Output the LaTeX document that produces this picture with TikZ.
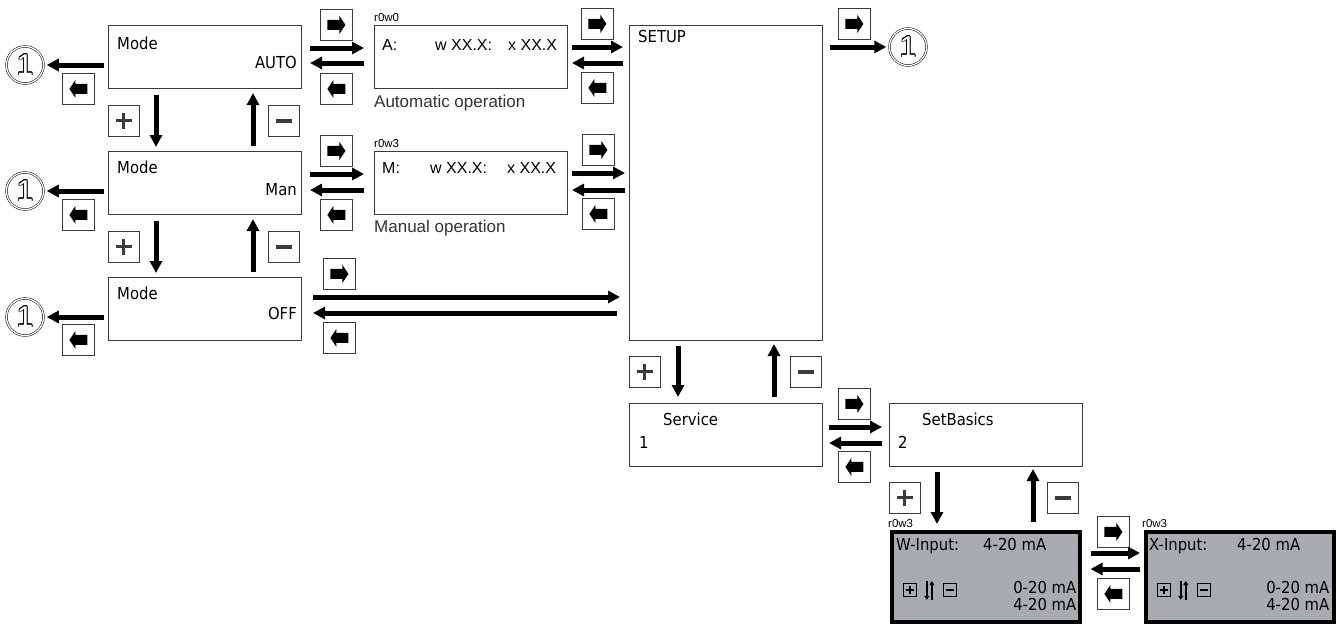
\documentclass[tikz,border=0pt]{standalone}
\usepackage{fontspec}
\setmainfont{Liberation Sans}
\newfontfamily\lcd[FakeStretch=0.9]{DejaVu Sans}
\usepackage{contour}
\contourlength{0.6pt}
\usetikzlibrary{arrows.meta,positioning,calc}
\definecolor{Frame}{HTML}{3A3A3A}
\definecolor{Panel}{HTML}{A8ABAF}
\tikzset{
  screen/.style={draw=Frame,line width=1pt,fill=white,minimum width=193pt,minimum height=63pt,anchor=north west,inner sep=0pt},
  panel/.style={draw=black,line width=3.5pt,fill=Panel,minimum width=188pt,minimum height=90pt,anchor=north west,inner sep=0pt},
  key/.style={draw=Frame,line width=0.8pt,fill=white,minimum width=32pt,minimum height=31pt,anchor=north west,inner sep=0pt},
  keyright/.style={key,path picture={\fill[black] (path picture bounding box.center) ++(-9,-5) -- ++(12,0) -- ++(0,-4) -- ++(6,9) -- ++(-6,9) -- ++(0,-4) -- ++(-12,0) -- cycle;}},
  keyleft/.style={key,path picture={\fill[black] (path picture bounding box.center) ++(9,-5) -- ++(-12,0) -- ++(0,-4) -- ++(-6,9) -- ++(6,9) -- ++(0,-4) -- ++(12,0) -- cycle;}},
  keyplus/.style={key,minimum width=31pt,path picture={\draw[line width=3pt] (path picture bounding box.center) ++(-8,0) -- ++(16,0) (path picture bounding box.center) ++(0,-8) -- ++(0,16);}},
  keyminus/.style={key,minimum width=31pt,path picture={\draw[line width=4pt] (path picture bounding box.center) ++(-8,0) -- ++(16,0);}},
  minikey/.style={draw=black,line width=0.8pt,minimum size=13pt,anchor=north west,inner sep=0pt},
  miniplus/.style={minikey,path picture={\draw[line width=1.4pt] (path picture bounding box.center) ++(-4,0) -- ++(8,0) (path picture bounding box.center) ++(0,-4) -- ++(0,8);}},
  miniminus/.style={minikey,path picture={\draw[line width=1.4pt] (path picture bounding box.center) ++(-4,0) -- ++(8,0);}},
  ring/.style={circle,draw,double,double distance=1.3pt,line width=0.5pt,minimum size=37pt,inner sep=0pt,font=\fontsize{30}{30}\selectfont},
  lcdtxt/.style={inner sep=0pt,anchor=base west,font=\lcd\fontsize{16.5}{18}\selectfont},
  valtxt/.style={inner sep=0pt,anchor=base west,font=\fontsize{16}{18}\selectfont},
  captxt/.style={inner sep=0pt,anchor=base west,font=\fontsize{17}{19}\selectfont,text=black!80},
  tagtxt/.style={inner sep=0pt,anchor=base west,font=\fontsize{11.5}{12}\selectfont},
  flow/.style={-{Triangle[length=12pt,width=12pt]},line width=5pt},
  miniflow/.style={-{Triangle[length=4pt,width=5pt]},line width=1.6pt}
}

\begin{document}
\begin{tikzpicture}[x=1pt,y=-1pt]
  \useasboundingbox (0,0) rectangle (1336,625);
  % mode screens
  \node[screen] (auto) at (108,25) {};
  \node[screen] (man) at (108,151) {};
  \node[screen] (off) at (108,277) {};
  \node[lcdtxt] (auto-t) at ([shift={(9,24)}]auto.north west) {Mode};
  \node[lcdtxt,anchor=base east] (auto-v) at ([shift={(-5,43)}]auto.north east) {AUTO};
  \node[lcdtxt] (man-t) at ([shift={(9,22)}]man.north west) {Mode};
  \node[lcdtxt,anchor=base east] (man-v) at ([shift={(-5,44)}]man.north east) {Man};
  \node[lcdtxt] (off-t) at ([shift={(9,22)}]off.north west) {Mode};
  \node[lcdtxt,anchor=base east] (off-v) at ([shift={(-5,42)}]off.north east) {OFF};
  % operation screens
  \node[screen] (aop) at (374,25) {};
  \node[screen] (mop) at (374,151) {};
  \node[tagtxt] (aop-r) at ([shift={(0,-4)}]aop.north west) {r0w0};
  \node[valtxt] (aop-a) at ([shift={(8,25)}]aop.north west) {A:};
  \node[valtxt] (aop-w) at ([shift={(61,25)}]aop.north west) {w XX.X:};
  \node[valtxt] (aop-x) at ([shift={(134,25)}]aop.north west) {x XX.X};
  \node[captxt] (aop-c) at ([shift={(0,18)}]aop.south west) {Automatic operation};
  \node[tagtxt] (mop-r) at ([shift={(0,-4)}]mop.north west) {r0w3};
  \node[valtxt] (mop-m) at ([shift={(8,22)}]mop.north west) {M:};
  \node[valtxt] (mop-w) at ([shift={(56,22)}]mop.north west) {w XX.X:};
  \node[valtxt] (mop-x) at ([shift={(133,22)}]mop.north west) {x XX.X};
  \node[captxt] (mop-c) at ([shift={(0,17)}]mop.south west) {Manual operation};
  % setup and menus
  \node[screen,minimum height=315pt] (setup) at (629,25) {};
  \node[lcdtxt] (setup-t) at ([shift={(9,17)}]setup.north west) {SETUP};
  \node[screen] (serv) at (629,403) {};
  \node[lcdtxt] (serv-t) at ([shift={(34,22)}]serv.north west) {Service};
  \node[lcdtxt] (serv-n) at ([shift={(10,45)}]serv.north west) {1};
  \node[screen] (basics) at (889,403) {};
  \node[lcdtxt] (basics-t) at ([shift={(33,22)}]basics.north west) {SetBasics};
  \node[lcdtxt] (basics-n) at ([shift={(9,45)}]basics.north west) {2};
  % input panels
  \node[panel] (winp) at (890,530) {};
  \node[panel] (xinp) at (1144,530) {};
  \node[tagtxt] (winp-r) at ([shift={(-2,-3)}]winp.north west) {r0w3};
  \node[lcdtxt] (winp-t) at ([shift={(6,20)}]winp.north west) {W-Input:};
  \node[lcdtxt] (winp-v) at ([shift={(93,20)}]winp.north west) {4-20 mA};
  \node[lcdtxt,anchor=base east] (winp-o1) at ([shift={(-5,63)}]winp.north east) {0-20 mA};
  \node[lcdtxt,anchor=base east] (winp-o2) at ([shift={(-5,80)}]winp.north east) {4-20 mA};
  \node[miniplus] (winp-k1) at ([shift={(13,53)}]winp.north west) {};
  \node[miniminus] (winp-k2) at ([shift={(53,53)}]winp.north west) {};
  \draw[miniflow] ([shift={(10,-2)}]winp-k1.north east) -- ([shift={(10,3)}]winp-k1.south east);
  \draw[miniflow] ([shift={(15,3)}]winp-k1.south east) -- ([shift={(15,-2)}]winp-k1.north east);
  \node[tagtxt] (xinp-r) at ([shift={(-2,-3)}]xinp.north west) {r0w3};
  \node[lcdtxt] (xinp-t) at ([shift={(5,20)}]xinp.north west) {X-Input:};
  \node[lcdtxt] (xinp-v) at ([shift={(93,20)}]xinp.north west) {4-20 mA};
  \node[lcdtxt,anchor=base east] (xinp-o1) at ([shift={(-6,63)}]xinp.north east) {0-20 mA};
  \node[lcdtxt,anchor=base east] (xinp-o2) at ([shift={(-6,80)}]xinp.north east) {4-20 mA};
  \node[miniplus] (xinp-k1) at ([shift={(13,53)}]xinp.north west) {};
  \node[miniminus] (xinp-k2) at ([shift={(53,53)}]xinp.north west) {};
  \draw[miniflow] ([shift={(10,-2)}]xinp-k1.north east) -- ([shift={(10,3)}]xinp-k1.south east);
  \draw[miniflow] ([shift={(15,3)}]xinp-k1.south east) -- ([shift={(15,-2)}]xinp-k1.north east);
  % exits
  \node[ring] (ring1) at (25,65) {\contour{black}{\textcolor{white}{1}}};
  \node[ring] (ring2) at (25,191) {\contour{black}{\textcolor{white}{1}}};
  \node[ring] (ring3) at (25,317) {\contour{black}{\textcolor{white}{1}}};
  \node[ring] (ring4) at (908,47) {\contour{black}{\textcolor{white}{1}}};
  % keys
  \node[keyleft] (k-auto-x) at (62,73) {};
  \node[keyleft] (k-man-x) at (62,199) {};
  \node[keyleft] (k-off-x) at (62,324) {};
  \node[keyright] (k-auto-r) at (320,9) {};
  \node[keyleft] (k-auto-l) at (320,73) {};
  \node[keyright] (k-man-r) at (320,135) {};
  \node[keyleft] (k-man-l) at (320,199) {};
  \node[keyright] (k-off-r) at (323,258) {};
  \node[keyleft] (k-off-l) at (323,322) {};
  \node[keyright] (k-aop-r) at (581,8) {};
  \node[keyleft] (k-aop-l) at (581,72) {};
  \node[keyright] (k-mop-r) at (582,134) {};
  \node[keyleft] (k-mop-l) at (582,198) {};
  \node[keyright] (k-setup-r) at (838,8) {};
  \node[keyplus] (k-auto-p) at (108,105) {};
  \node[keyminus] (k-auto-m) at (268,105) {};
  \node[keyplus] (k-man-p) at (108,231) {};
  \node[keyminus] (k-man-m) at (268,231) {};
  \node[keyplus] (k-setup-p) at (629,356) {};
  \node[keyminus] (k-setup-m) at (790,356) {};
  \node[keyright] (k-serv-r) at (838,388) {};
  \node[keyleft] (k-serv-l) at (838,451) {};
  \node[keyplus] (k-basics-p) at (889,482) {};
  \node[keyminus] (k-basics-m) at (1047,482) {};
  \node[keyright] (k-winp-r) at (1097,516) {};
  \node[keyleft] (k-winp-l) at (1097,578) {};
  % horizontal flows
  \draw[flow,shorten >=3pt] ([shift={(-4,40)}]auto.north west) -- (ring1);
  \draw[flow,shorten >=3pt] ([shift={(-4,40)}]man.north west) -- (ring2);
  \draw[flow,shorten >=3pt] ([shift={(-4,40)}]off.north west) -- (ring3);
  \draw[flow] ([shift={(8,23)}]auto.north east) -- ([shift={(-10,23)}]aop.north west);
  \draw[flow] ([shift={(-10,38)}]aop.north west) -- ([shift={(8,38)}]auto.north east);
  \draw[flow] ([shift={(8,23)}]man.north east) -- ([shift={(-10,23)}]mop.north west);
  \draw[flow] ([shift={(-10,39)}]mop.north west) -- ([shift={(8,39)}]man.north east);
  \draw[flow] ([shift={(11,20)}]off.north east) -- ([shift={(-9,272)}]setup.north west);
  \draw[flow] ([shift={(-12,288)}]setup.north west) -- ([shift={(11,36)}]off.north east);
  \draw[flow] ([shift={(4,22)}]aop.north east) -- ([shift={(-6,22)}]setup.north west);
  \draw[flow] ([shift={(-6,38)}]setup.north west) -- ([shift={(4,38)}]aop.north east);
  \draw[flow] ([shift={(4,22)}]mop.north east) -- ([shift={(-4,148)}]setup.north west);
  \draw[flow] ([shift={(-4,165)}]setup.north west) -- ([shift={(4,39)}]mop.north east);
  \draw[flow,shorten >=3pt] ([shift={(7,22)}]setup.north east) -- (ring4);
  \draw[flow] ([shift={(6,24)}]serv.north east) -- ([shift={(-7,24)}]basics.north west);
  \draw[flow] ([shift={(-7,40)}]basics.north west) -- ([shift={(6,40)}]serv.north east);
  \draw[flow] ([shift={(9,23)}]winp.north east) -- ([shift={(-4,23)}]xinp.north west);
  \draw[flow] ([shift={(-4,39)}]xinp.north west) -- ([shift={(9,39)}]winp.north east);
  % vertical flows
  \draw[flow] ([shift={(48,6)}]auto.south west) -- ([shift={(48,-4)}]man.north west);
  \draw[flow] ([shift={(145,-5)}]man.north west) -- ([shift={(145,4)}]auto.south west);
  \draw[flow] ([shift={(48,6)}]man.south west) -- ([shift={(48,-4)}]off.north west);
  \draw[flow] ([shift={(145,-5)}]off.north west) -- ([shift={(145,4)}]man.south west);
  \draw[flow] ([shift={(49,5)}]setup.south west) -- ([shift={(49,-6)}]serv.north west);
  \draw[flow] ([shift={(145,-6)}]serv.north west) -- ([shift={(145,3)}]setup.south west);
  \draw[flow] ([shift={(48,5)}]basics.south west) -- ([shift={(47,-6)}]winp.north west);
  \draw[flow] ([shift={(143,-8)}]winp.north west) -- ([shift={(144,2)}]basics.south west);
\end{tikzpicture}
\end{document}
